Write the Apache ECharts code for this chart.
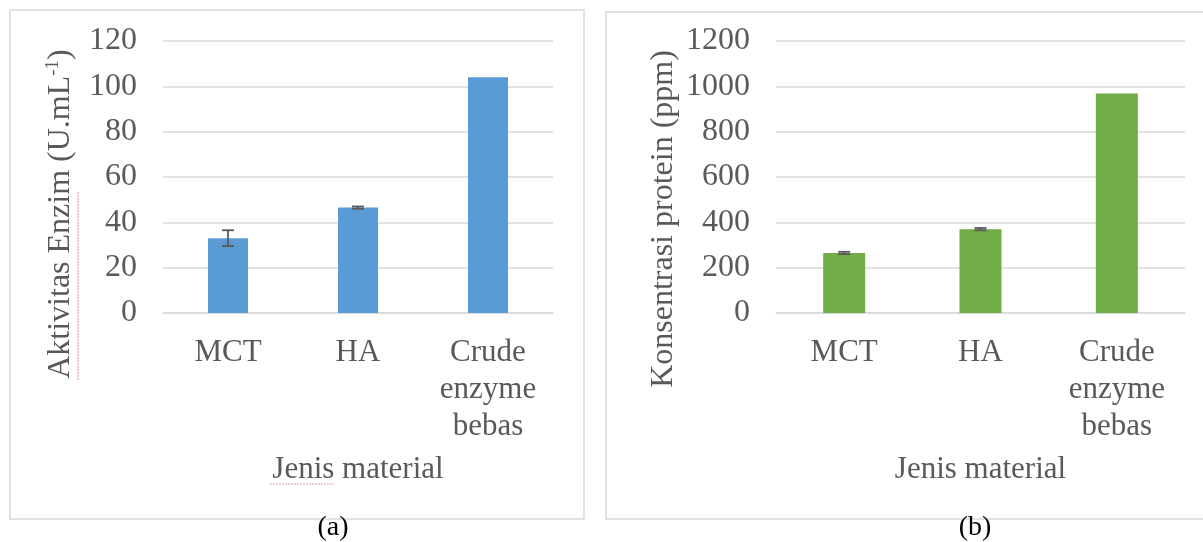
<!DOCTYPE html>
<html>
<head>
<meta charset="utf-8">
<script src="https://cdn.jsdelivr.net/npm/echarts@6/dist/echarts.min.js"></script>
<style>
  html, body { margin: 0; padding: 0; background: #fff; }
  #chart { width: 1203px; height: 542px; }
</style>
</head>
<body>
<div id="chart"></div>
<script>
// data
const categories = ['MCT', 'HA', 'Crude\nenzyme\nbebas'];
const enzimValues = [33, 46.5, 104];
const enzimErr = [3.5, 0.5, 0];
const proteinValues = [265, 370, 968];
const proteinErr = [5, 5, 0];
const enzimTicks = [0, 120, 20];     // min, max, interval
const proteinTicks = [0, 1200, 200];

const FONT = 'Liberation Serif';
const GREY = '#595959';

// error bar data: [categoryIndex, low, high]
function errData (vals, errs) {
  return vals.map((v, i) => [i, v - errs[i], v + errs[i]]);
}

function errorBar (params, api) {
  let lo = api.coord([api.value(0), api.value(1)]);
  let hi = api.coord([api.value(0), api.value(2)]);
  let half = 6;
  let style = { stroke: GREY, lineWidth: 1.8 };
  return {
    type: 'group',
    children: [
      { type: 'line', shape: { x1: lo[0], y1: lo[1], x2: hi[0], y2: hi[1] }, style: style },
      { type: 'line', shape: { x1: lo[0] - half, y1: lo[1], x2: lo[0] + half, y2: lo[1] }, style: style },
      { type: 'line', shape: { x1: hi[0] - half, y1: hi[1], x2: hi[0] + half, y2: hi[1] }, style: style }
    ]
  };
}

function xAx (idx) {
  return {
    type: 'category',
    gridIndex: idx,
    data: categories,
    axisLine: { lineStyle: { color: '#d9d9d9', width: 1.5 } },
    axisTick: { show: false },
    axisLabel: { fontFamily: FONT, fontSize: 31, color: GREY, margin: 21, lineHeight: 37 },
    name: 'Jenis material',
    nameLocation: 'middle',
    nameGap: 141,
    nameTextStyle: { fontFamily: FONT, fontSize: 31, color: GREY }
  };
}

function yAx (idx, ticks, name, gap, shift) {
  return {
    type: 'value',
    gridIndex: idx,
    min: ticks[0],
    max: ticks[1],
    interval: ticks[2],
    axisLine: { show: false },
    axisTick: { show: false },
    splitLine: { lineStyle: { color: '#d9d9d9', width: 1.5 } },
    axisLabel: { fontFamily: FONT, fontSize: 32, color: GREY, margin: 26, formatter: v => String(v) },
    name: name,
    nameLocation: 'middle',
    nameGap: gap,
    nameTextStyle: {
      fontFamily: FONT, fontSize: 32, color: GREY,
      padding: [0, shift, 0, 0],
      rich: { sup: { fontFamily: FONT, fontSize: 19, color: GREY, verticalAlign: 'top', padding: [0, 0, 14, 0] } }
    }
  };
}

let chart = echarts.init(document.getElementById('chart'), null, { renderer: 'canvas' });

let option = {
  backgroundColor: '#fff',
  animation: false,
  grid: [
    { left: 163, right: 650, top: 41, bottom: 229 },
    { left: 776, right: 18, top: 41, bottom: 229 }
  ],
  xAxis: [xAx(0), xAx(1)],
  yAxis: [
    yAx(0, enzimTicks, 'Aktivitas Enzim (U.mL{sup|-1})', 86, 74),
    yAx(1, proteinTicks, 'Konsentrasi protein (ppm)', 96, 84)
  ],
  graphic: [
    { type: 'rect', shape: { x: 10, y: 10, width: 574, height: 509 }, style: { fill: 'none', stroke: '#d9d9d9', lineWidth: 1.5 }, z: -1 },
    { type: 'rect', shape: { x: 606, y: 12, width: 620, height: 507 }, style: { fill: 'none', stroke: '#d9d9d9', lineWidth: 1.5 }, z: -1 },
    { type: 'text', x: 333, y: 528, style: { text: '(a)', font: '28px "Liberation Serif"', fill: '#000', align: 'center', verticalAlign: 'middle' } },
    { type: 'text', x: 975, y: 528, style: { text: '(b)', font: '28px "Liberation Serif"', fill: '#000', align: 'center', verticalAlign: 'middle' } },
    // spell-check squiggles seen in the source figure
    { type: 'line', shape: { x1: 78, y1: 380, x2: 78, y2: 192 }, style: { stroke: '#e8a0a0', lineWidth: 1.2, lineDash: [2, 1] } },
    { type: 'line', shape: { x1: 270, y1: 484, x2: 334, y2: 484 }, style: { stroke: '#e8a0a0', lineWidth: 1.2, lineDash: [2, 1] } }
  ],
  series: [
    {
      type: 'bar', xAxisIndex: 0, yAxisIndex: 0,
      data: enzimValues, barWidth: 40,
      itemStyle: { color: '#5b9bd5' }
    },
    {
      type: 'custom', xAxisIndex: 0, yAxisIndex: 0,
      data: errData(enzimValues, enzimErr).slice(0, 2),
      renderItem: errorBar, z: 5
    },
    {
      type: 'bar', xAxisIndex: 1, yAxisIndex: 1,
      data: proteinValues, barWidth: 42,
      itemStyle: { color: '#70ad47' }
    },
    {
      type: 'custom', xAxisIndex: 1, yAxisIndex: 1,
      data: errData(proteinValues, proteinErr).slice(0, 2),
      renderItem: errorBar, z: 5
    }
  ]
};

chart.setOption(option);
</script>
</body>
</html>
